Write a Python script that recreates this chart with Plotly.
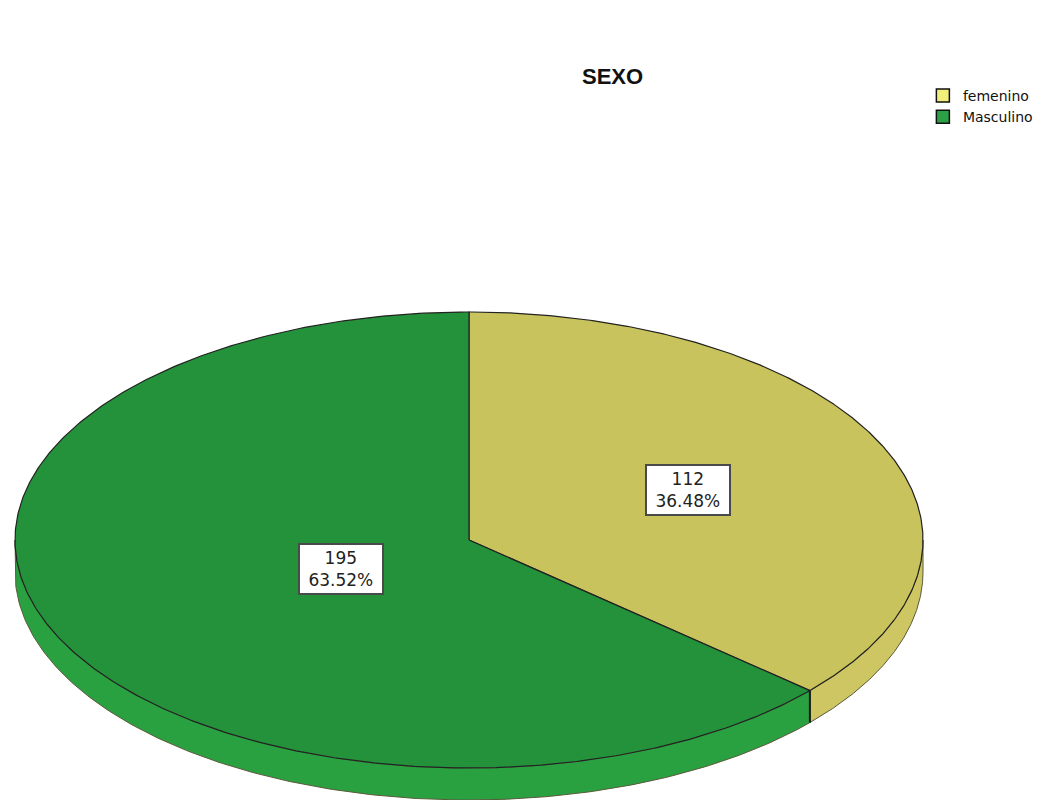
import numpy as np
import plotly.graph_objects as go

# ---- data ----
categories = ["femenino", "Masculino"]
counts = [112, 195]
title_text = "SEXO"

# ---- styles ----
top_colors = ["#c9c35d", "#23923a"]
side_colors = ["#cdc662", "#29a141"]
legend_colors = ["#f1ee7c", "#2ba046"]
label_r = [0.53, 0.31]

W, H = 1062, 800
CX, CY, A, B, DEPTH = 469, 540, 454, 228, 32

total = sum(counts)
pcts = [c / total * 100 for c in counts]


def pt(t_deg, dy=0.0):
    t = np.radians(t_deg)
    return CX + A * np.sin(t), CY - B * np.cos(t) + dy


fig = go.Figure()

# slice angle ranges (clockwise from 12 o'clock)
bounds = []
start = 0.0
for c in counts:
    sweep = c / total * 360.0
    bounds.append((start, start + sweep))
    start += sweep

# side walls (front half only: 90..270 deg)
for i, (t0, t1) in enumerate(bounds):
    s0, s1 = max(t0, 90.0), min(t1, 270.0)
    if s1 <= s0:
        continue
    ts = np.linspace(s0, s1, 200)
    xt, yt = pt(ts)
    xb, yb = pt(ts[::-1], DEPTH)
    xs = np.concatenate([xt, xb, xt[:1]])
    ys = np.concatenate([yt, yb, yt[:1]])
    fig.add_trace(go.Scatter(x=xs, y=ys, mode="lines", fill="toself",
                             fillcolor=side_colors[i],
                             line=dict(color="#5a5a3a", width=1),
                             hoverinfo="skip", showlegend=False))

# division edge on side wall
for (t0, t1) in bounds:
    if 90 < t0 < 270:
        x0, y0 = pt(t0)
        x1, y1 = pt(t0, DEPTH)
        fig.add_trace(go.Scatter(x=[x0, x1], y=[y0, y1], mode="lines",
                                 line=dict(color="#1a1a1a", width=2),
                                 hoverinfo="skip", showlegend=False))

# top faces
for i, (t0, t1) in enumerate(bounds):
    ts = np.linspace(t0, t1, 400)
    xa, ya = pt(ts)
    xs = np.concatenate([[CX], xa, [CX]])
    ys = np.concatenate([[CY], ya, [CY]])
    fig.add_trace(go.Scatter(x=xs, y=ys, mode="lines", fill="toself",
                             fillcolor=top_colors[i],
                             line=dict(color="#222222", width=1.2),
                             hoverinfo="skip", showlegend=False))

# legend entries
for i, cat in enumerate(categories):
    fig.add_trace(go.Scatter(x=[None], y=[None], mode="markers", name=cat,
                             marker=dict(symbol="square", size=13,
                                         color=legend_colors[i],
                                         line=dict(color="#111111", width=1.5))))

# labels
for i, (t0, t1) in enumerate(bounds):
    mid = (t0 + t1) / 2
    t = np.radians(mid)
    lx = CX + A * label_r[i] * np.sin(t)
    ly = CY - B * label_r[i] * np.cos(t)
    fig.add_annotation(x=lx, y=ly, xref="x", yref="y", showarrow=False,
                       text=f"{counts[i]}<br>&nbsp;{pcts[i]:.2f}%&nbsp;",
                       font=dict(family="DejaVu Sans", size=17, color="#222222"),
                       bgcolor="white", bordercolor="#4a4a4a", borderwidth=2,
                       borderpad=3, align="center")

fig.add_annotation(x=612, y=76, xref="x", yref="y", showarrow=False,
                   text=f"<b>{title_text}</b>",
                   font=dict(family="Arial, Liberation Sans", size=22, color="#111111"))

fig.update_layout(
    width=W, height=H,
    margin=dict(l=0, r=0, t=0, b=0),
    paper_bgcolor="white", plot_bgcolor="white",
    xaxis=dict(range=[0, W], visible=False, fixedrange=True),
    yaxis=dict(range=[H, 0], visible=False, fixedrange=True),
    showlegend=True,
    legend=dict(x=0.869, y=0.9, xanchor="left", yanchor="top",
                font=dict(family="DejaVu Sans", size=14, color="#111111"),
                bgcolor="rgba(0,0,0,0)", tracegroupgap=0, itemwidth=30),
)

fig.write_html("out.html")
